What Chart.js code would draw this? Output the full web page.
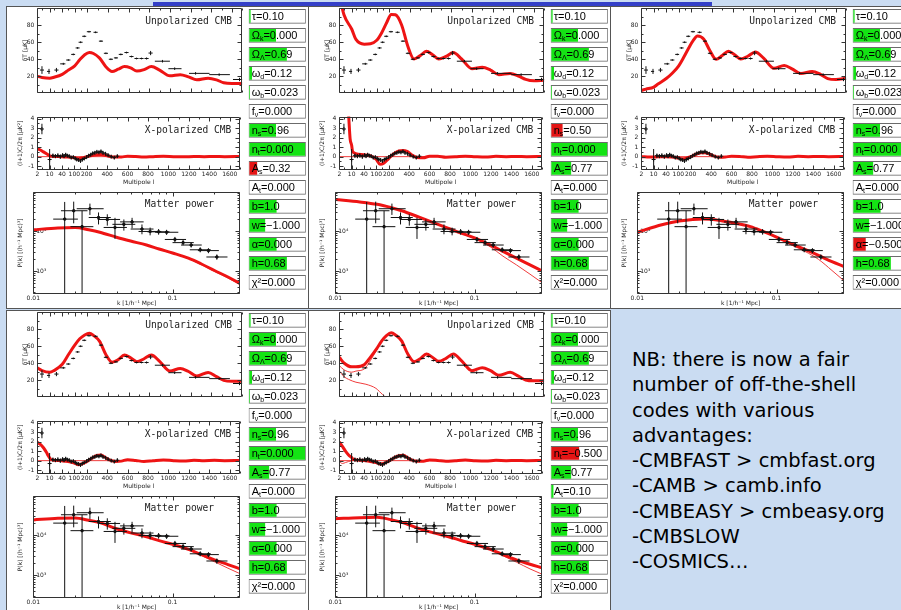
<!DOCTYPE html>
<html>
<head>
<meta charset="utf-8">
<title>CMB fit panels</title>
<script src="https://cdn.jsdelivr.net/npm/chart.js"></script>
<style>
  html, body { margin: 0; padding: 0; }
  body { width: 901px; height: 610px; overflow: hidden; position: relative; background: #cadcf2; }
  .topbar { position: absolute; left: 153px; top: 2px; width: 559px; height: 4px; background: #3440c8; }
  .panel { position: absolute; box-sizing: border-box; width: 303px; height: 303px; background: #fff; border: 1px solid #555; }
  canvas { position: absolute; }
  .note { position: absolute; left: 632px; top: 347px; font-family: "DejaVu Sans", sans-serif; font-size: 19.5px; line-height: 25.3px; color: #000; white-space: pre; }
</style>
</head>
<body>
<div class="topbar"></div>
<div class="note">NB: there is now a fair
number of off-the-shell
codes with various
advantages:
-CMBFAST &gt; cmbfast.org
-CAMB &gt; camb.info
-CMBEASY &gt; cmbeasy.org
-CMBSLOW
-COSMICS…</div>
<script>
// ========================================
// TICKS
// ========================================
const cmbTickL = [2, 10, 40, 100, 200, 400, 600, 800, 1000, 1200, 1400, 1600];
const cmbMinorL = [5, 20, 70, 150, 300, 500, 700, 900, 1100, 1300, 1500, 1700];
const ttYTicks = [20, 40, 60, 80];
const ttYMinor = [10, 30, 50, 70, 90];
const teYTicks = [-1, 0, 1, 2, 3, 4];
const teYMinor = [-0.5, 0.5, 1.5, 2.5, 3.5];
const mpXTicks = [0.01, 0.1];
const mpXLabels = ["0.01", "0.1"];
const mpXMinor = [0.02, 0.03, 0.04, 0.05, 0.06, 0.07, 0.08, 0.09, 0.2, 0.3];
const mpYTicks = [1000, 10000];
const mpYLabels = ["10³", "10⁴"];
const mpYMinor = [300, 400, 500, 600, 700, 800, 900, 2000, 3000, 4000, 5000, 6000, 7000, 8000, 9000,
  20000, 30000, 40000, 50000, 60000, 70000, 80000, 90000];

// ========================================
// UNPOLARIZED CMB (dT in uK) - model curves
// ========================================
const ttGridL = [2, 5, 10, 20, 40, 70, 100, 140, 180, 220, 260, 320, 380, 440, 500, 560, 620, 680, 750, 820,
  900, 1000, 1100, 1180, 1260, 1370, 1450, 1520, 1600, 1700];
const ttP1 = [19.7, 18.3, 17.4, 18.5, 22, 27, 32, 39, 45, 47.6, 46.5, 41, 31, 25.4, 28, 31.1, 29.5, 25.8, 27.5, 31.1,
  27, 20.2, 21.6, 19, 15.5, 17.4, 15.5, 12, 11.1, 11.1];
const ttP2 = [115, 92, 75, 63, 57.5, 58, 62, 71, 83, 92.5, 92, 80, 55, 40, 44, 49, 45, 40, 43, 47.6,
  40, 28.6, 30.2, 27, 21.6, 22.9, 20, 16, 14.3, 15];
const ttP3 = [3, 4.5, 7, 10.5, 17, 23.5, 32, 42, 53, 62, 67, 63.5, 50, 39.7, 44, 49.2, 45, 40, 43.5, 48.3,
  41, 29, 32.4, 28, 22.9, 25.4, 22, 17, 15.9, 17.4];
const ttP4 = [34.3, 31, 29, 31, 38.5, 50, 61, 68.5, 73, 75, 72.5, 65.4, 50, 41, 44, 49.5, 46, 41.6, 45, 49.5,
  42, 30.5, 33.6, 30, 24.8, 28.9, 24, 19.5, 18.4, 18.4];
const ttP5 = [46.7, 40, 35.5, 35.5, 38, 47, 57, 66, 72.5, 75.5, 73, 66, 50.5, 41.5, 45, 50.5, 46.5, 42, 45.5, 50.5,
  42.5, 31, 34.5, 31, 25.5, 29, 24.5, 20, 19, 19];
// panel 5 extra thin curves (scalar part, tensor part)
const ttP5ScalarL = [2, 5, 10, 20, 40, 70, 100, 140];
const ttP5Scalar = [37, 32, 29.2, 30.5, 33, 43, 55.5, 65.5];
const ttP5TensorL = [2, 5, 8, 20, 48, 96, 147, 175, 1700];
const ttP5Tensor = [30.8, 24, 20.7, 17.4, 15, 10.2, 2.9, 0, 0];

// CMB temperature data points
const ttDataL = [5, 9.5, 26, 45, 69, 93, 123, 147, 176, 217, 281, 333, 381, 429, 478, 525, 580, 628, 677, 725,
  774, 813, 928, 1046, 1248, 1476, 1673];
const ttDataV = [27, 25.4, 27, 34.3, 38.8, 45.4, 53, 59.7, 66.7, 72.1, 71.4, 61, 46.7, 39.7, 41.3, 45.4, 47.6, 42.9, 40.6, 40.6,
  40.6, 47, 37.4, 28.6, 23.1, 21.6, 15.9];
const ttDataErr = [4.5, 3, 2.5, 1.2, 1, 1, 1, 1, 1, 1, 1, 1, 1, 1, 1, 1, 1, 1, 1, 1,
  1.2, 2.5, 1.5, 1.5, 1.5, 1.5, 2];
const ttDataLLo = [3.7, 8.2, 21, 35, 59, 83, 107, 131, 160, 197, 261, 313, 361, 409, 458, 505, 560, 608, 657, 705,
  754, 793, 854, 985, 1185, 1380, 1610];
const ttDataLHi = [6.3, 10.8, 31, 55, 79, 103, 139, 163, 192, 237, 301, 353, 401, 449, 498, 545, 600, 648, 697, 745,
  794, 833, 1000, 1112, 1383, 1580, 1700];

// ========================================
// X-POLARIZED CMB - model curves
// ========================================
const teGridL = [2, 4, 6, 8, 9, 10, 12, 14, 20, 40, 70, 100, 130, 160, 200, 250, 300, 340, 380, 430,
  480, 540, 600, 680, 760, 850, 950, 1050, 1150, 1250, 1350, 1450, 1550, 1700];
const teP1 = [0.82, 0.7, 0.5, 0.3, 0.2, 0.1, 0.06, 0.05, 0.02, 0, -0.05, -0.12, -0.22, -0.15, 0, 0.12, 0.2, 0.22, 0.15, 0.02,
  -0.04, -0.03, 0.04, 0.01, -0.04, 0, 0.03, 0, -0.02, 0.02, 0, 0.01, 0, 0.01];
const teP2 = [30, 16, 9, 4.5, 1.9, 1.2, 0.59, 0.45, 0.3, 0.2, 0.1, -0.3, -0.8, -0.7, -0.2, 0.3, 0.6, 0.65, 0.55, 0.15,
  -0.1, -0.12, 0.05, 0.05, -0.05, -0.02, 0.05, 0, -0.03, 0.03, 0, 0.02, 0, 0.01];
const teP3 = [0, -0.02, -0.03, -0.03, -0.03, -0.03, -0.03, -0.03, -0.02, 0, -0.05, -0.15, -0.22, -0.18, 0, 0.25, 0.4, 0.42, 0.3, 0.05,
  -0.06, -0.04, 0.05, 0.02, -0.06, 0, 0.05, 0, -0.03, 0.03, 0, 0.02, 0, 0.01];
const teP4 = [1.93, 1.7, 1.35, 0.85, 0.55, 0.3, 0.18, 0.12, 0.05, -0.02, -0.1, -0.25, -0.42, -0.35, -0.1, 0.25, 0.55, 0.6, 0.35, 0.05,
  -0.08, -0.05, 0.1, 0.02, -0.08, 0, 0.07, 0, -0.04, 0.04, 0, 0.03, 0, 0.02];
const teP5 = [1.96, 1.5, 1.0, 0.6, 0.45, 0.33, 0.2, 0.15, 0.08, 0.02, -0.08, -0.2, -0.35, -0.3, -0.05, 0.28, 0.52, 0.56, 0.35, 0.05,
  -0.05, -0.05, 0.08, 0.02, -0.06, 0, 0.06, 0, -0.03, 0.03, 0, 0.02, 0, 0.02];
const teP5ScalarL = [2, 4, 6, 10, 20, 40];
const teP5Scalar = [-0.1, -0.3, -0.2, 0, 0.05, 0.02];
const teZeroL = [2, 1700];
const teZero = [0, 0];

// polarization data points
const teDataL = [5, 10, 18, 24, 30, 36, 43, 50, 58, 66, 75, 85, 95, 108, 120, 135, 150, 165, 180, 200,
  220, 240, 260, 280, 300, 320, 340, 360, 385, 410, 440, 470, 500];
const teDataV = [2.9, -0.3, 0.1, 0.05, 0.12, 0, 0.15, 0.05, 0.2, 0.1, 0.05, -0.1, -0.05, -0.2, -0.3, -0.35, -0.45, -0.3, -0.2, -0.05,
  0.1, 0.2, 0.35, 0.4, 0.5, 0.45, 0.55, 0.4, 0.3, 0.15, 0, -0.1, 0.05];
const teDataErr = [0.55, 1.1, 0.2, 0.2, 0.2, 0.2, 0.18, 0.18, 0.18, 0.16, 0.16, 0.15, 0.15, 0.15, 0.15, 0.15, 0.15, 0.15, 0.15, 0.15,
  0.15, 0.15, 0.15, 0.15, 0.15, 0.15, 0.15, 0.15, 0.15, 0.15, 0.15, 0.15, 0.15];

// ========================================
// MATTER POWER P(k) - model curves (thick) and linear (thin)
// ========================================
const kGrid = [0.010, 0.015, 0.020, 0.025, 0.030, 0.040, 0.050, 0.065, 0.080, 0.100, 0.130, 0.160, 0.200, 0.250, 0.305];
const mpP1 = [11000, 12300, 12600, 11000, 9550, 7080, 5750, 4570, 3630, 2880, 2140, 1550, 1050, 720, 500];
const mpP1Lin = [11000, 12300, 12600, 11000, 9550, 7080, 5750, 4570, 3630, 2880, 2100, 1480, 1000, 680, 460];
const mpP2 = [63100, 55000, 47900, 39800, 33100, 22900, 17000, 12000, 9120, 6920, 4570, 3160, 2140, 1450, 1020];
const mpP2Lin = [63100, 55000, 47900, 39800, 33100, 22900, 17000, 12000, 9000, 6700, 4100, 2400, 1450, 850, 520];
const mpP3 = [9550, 14800, 18200, 20000, 20400, 18600, 16200, 13200, 10000, 7240, 4790, 3550, 2510, 1740, 1320];
const mpP3Lin = [9550, 14800, 18200, 20000, 20400, 18600, 16200, 13200, 10000, 7080, 4470, 3160, 2000, 1050, 580];
const mpP4 = [24500, 27000, 27500, 24000, 21000, 14500, 11600, 9300, 7400, 6000, 4470, 3350, 2450, 1860, 1460];
const mpP4Lin = [24500, 27000, 27500, 24000, 21000, 14500, 11600, 9300, 7400, 6000, 4400, 3160, 2190, 1510, 1100];
const mpP5 = [26300, 28000, 28500, 25000, 21500, 14800, 11800, 9300, 7500, 6000, 4470, 3310, 2450, 1900, 1550];
const mpP5Lin = [26300, 28000, 28500, 25000, 21500, 14800, 11800, 9300, 7500, 6000, 4400, 3090, 2140, 1450, 1070];

// galaxy power spectrum data points
const mpDataK = [0.0168, 0.0195, 0.0224, 0.0255, 0.0294, 0.0340, 0.0386, 0.0447, 0.0512, 0.0603,
  0.0690, 0.0794, 0.0906, 0.104, 0.119, 0.136, 0.158, 0.181, 0.208];
const mpDataP = [20400, 33100, 13200, 37200, 22400, 20000, 12600, 15100, 17400, 11500,
  10000, 9800, 9550, 6300, 5250, 4570, 3470, 3310, 2290];
const mpDataPLo = [100, 16000, 100, 26000, 15000, 14000, 6500, 10500, 12000, 8500,
  8000, 8300, 8200, 5400, 4500, 3950, 3000, 2850, 1950];
const mpDataPHi = [55000, 56000, 33000, 50000, 30000, 27000, 22000, 20000, 22000, 15000,
  12500, 11500, 11000, 7300, 6100, 5200, 4000, 3800, 2650];
const mpDataKLo = [0.0139, 0.0158, 0.0185, 0.0205, 0.0250, 0.0290, 0.0320, 0.0370, 0.0420, 0.0500,
  0.0570, 0.0660, 0.0750, 0.0880, 0.1000, 0.1150, 0.1330, 0.1520, 0.1750];
const mpDataKHi = [0.0209, 0.0245, 0.0270, 0.0320, 0.0360, 0.0420, 0.0470, 0.0540, 0.0620, 0.0730,
  0.0830, 0.0950, 0.1100, 0.1250, 0.1420, 0.1620, 0.1880, 0.2150, 0.2480];

// ========================================
// PARAMETER SLIDERS
// ========================================
const paramBase = ["τ", "Ω", "Ω", "ω", "ω", "f", "n", "n", "A", "A", "b", "w", "α", "h", "χ²"];
const paramSub = ["", "k", "Λ", "d", "b", "ν", "s", "t", "s", "t", "", "", "", "", ""];
const parValP1 = ["0.10", "0.000", "0.69", "0.12", "0.023", "0.000", "0.96", "0.000", "0.32", "0.000", "1.0", "−1.000", "0.000", "0.68", "0.000"];
const parValP2 = ["0.10", "0.000", "0.69", "0.12", "0.023", "0.000", "0.50", "0.000", "0.77", "0.000", "1.0", "−1.000", "0.000", "0.68", "0.000"];
const parValP3 = ["0.10", "0.000", "0.69", "0.12", "0.023", "0.000", "0.96", "0.000", "0.77", "0.000", "1.0", "−1.000", "−0.500", "0.68", "0.000"];
const parValP4 = ["0.10", "0.000", "0.69", "0.12", "0.023", "0.000", "0.96", "0.000", "0.77", "0.000", "1.0", "−1.000", "0.000", "0.68", "0.000"];
const parValP5 = ["0.10", "0.000", "0.69", "0.12", "0.023", "0.000", "0.96", "−0.500", "0.77", "0.10", "1.0", "−1.000", "0.000", "0.68", "0.000"];
const parFillP1 = [0.045, 0.49, 0.68, 0.07, 0.025, 0, 0.49, 1, 0.16, 0, 0.5, 0.3, 0.5, 0.68, 0];
const parFillP2 = [0.045, 0.49, 0.68, 0.07, 0.025, 0, 0.22, 1, 0.37, 0, 0.5, 0.3, 0.5, 0.68, 0];
const parFillP3 = [0.045, 0.49, 0.68, 0.07, 0.025, 0, 0.49, 1, 0.37, 0, 0.5, 0.3, 0.24, 0.68, 0];
const parFillP4 = [0.045, 0.49, 0.68, 0.07, 0.025, 0, 0.49, 1, 0.37, 0, 0.5, 0.3, 0.5, 0.68, 0];
const parFillP5 = [0.045, 0.49, 0.68, 0.07, 0.025, 0, 0.49, 0.51, 0.37, 0.06, 0.5, 0.3, 0.5, 0.68, 0];

const RED = "#ee1414";
const RED_THIN = "#f03c3c";
const GREEN_FILL = "#14e314";
const RED_FILL = "#e31414";
const INK = "#222";

// ========================================
// MULTIPOLE AXIS: equal steps 2-10-40-100-200, linear above 200
// ========================================
const knotL = [2, 10, 40, 100, 200];
const L_PER_UNIT = 120.7;
function lToU(l) {
  if (l >= 200) return 4 + (l - 200) / L_PER_UNIT;
  for (let i = 1; i < knotL.length; i++) {
    if (l <= knotL[i]) return i - 1 + (l - knotL[i - 1]) / (knotL[i] - knotL[i - 1]);
  }
}
const same = (v) => v;

// ========================================
// HELPERS
// ========================================
Chart.defaults.font.family = '"DejaVu Sans", sans-serif';
Chart.defaults.font.size = 6;
Chart.defaults.color = INK;

function makeCanvas(x, y, w, h) {
  const c = document.createElement("canvas");
  c.width = w;
  c.height = h;
  c.style.left = x + "px";
  c.style.top = y + "px";
  document.body.appendChild(c);
  return c;
}

function makePanel(x, y) {
  const d = document.createElement("div");
  d.className = "panel";
  d.style.left = x + "px";
  d.style.top = y + "px";
  document.body.appendChild(d);
}

const pts = (xs, ys, fx) => xs.map((x, i) => ({ x: fx(x), y: ys[i] }));

function vBars(xs, lo, hi, fx) {
  const out = [];
  xs.forEach((x, i) => out.push({ x: fx(x), y: lo[i] }, { x: fx(x), y: hi[i] }, { x: fx(x), y: null }));
  return out;
}

function hBars(lo, hi, ys, fx) {
  const out = [];
  ys.forEach((y, i) => out.push({ x: fx(lo[i]), y }, { x: fx(hi[i]), y }, { x: fx(hi[i]), y: null }));
  return out;
}

const thick = (data) => ({ data, borderColor: RED, borderWidth: 3, pointRadius: 0, cubicInterpolationMode: "monotone" });
const thin = (data) => ({ data, borderColor: RED_THIN, borderWidth: 1, pointRadius: 0, cubicInterpolationMode: "monotone" });
const bars = (data) => ({ data, borderColor: "#111", borderWidth: 1, pointRadius: 0 });
const marks = (data, style, r) => ({
  data, showLine: false, pointStyle: style, pointRadius: r,
  pointBorderColor: "#111", pointBackgroundColor: "#111", pointBorderWidth: 1,
});

const baseOptions = {
  responsive: false,
  animation: false,
  events: [],
  plugins: { legend: { display: false }, tooltip: { enabled: false } },
};

// frame, inward tick marks and in-plot title
function framePlugin(cfg) {
  return {
    id: "frame",
    afterDatasetsDraw(chart) {
      const { ctx, chartArea: a } = chart;
      const sx = chart.scales.x, sy = chart.scales.y;
      const L = Math.round(a.left) + 0.5, R = Math.round(a.right) - 0.5;
      const T = Math.round(a.top) + 0.5, B = Math.round(a.bottom) - 0.5;
      ctx.save();
      ctx.strokeStyle = "#333";
      ctx.lineWidth = 1;
      ctx.beginPath();
      ctx.rect(L, T, R - L, B - T);
      const xt = (vals, len) => vals.forEach((v) => {
        const p = Math.round(sx.getPixelForValue(v)) + 0.5;
        ctx.moveTo(p, T); ctx.lineTo(p, T + len);
        ctx.moveTo(p, B); ctx.lineTo(p, B - len);
      });
      const yt = (vals, len) => vals.forEach((v) => {
        const p = Math.round(sy.getPixelForValue(v)) + 0.5;
        ctx.moveTo(L, p); ctx.lineTo(L + len, p);
        ctx.moveTo(R, p); ctx.lineTo(R - len, p);
      });
      xt(cfg.xMajor, 4); xt(cfg.xMinor, 2);
      yt(cfg.yMajor, 4); yt(cfg.yMinor, 2);
      ctx.stroke();
      ctx.font = '9.6px "DejaVu Sans Mono", monospace';
      ctx.fillStyle = INK;
      ctx.textBaseline = "middle";
      ctx.fillText(cfg.title, a.left + cfg.dx, a.top + cfg.dy);
      ctx.restore();
    },
  };
}

function cmbX(showLabels) {
  return {
    type: "linear", min: 0, max: lToU(1700), display: showLabels,
    grid: { display: false, drawTicks: false }, border: { display: false },
    afterBuildTicks: (s) => { s.ticks = cmbTickL.map((l) => ({ value: lToU(l) })); },
    ticks: { autoSkip: false, maxRotation: 0, minRotation: 0, padding: 1, callback: (v, i) => String(cmbTickL[i]) },
    title: { display: true, text: "Multipole l", padding: { top: 0, bottom: 4.4 } },
    afterFit: (s) => { s.height = 20; },
  };
}

// ========================================
// CHART BUILDERS
// ========================================
function ttChart(p) {
  const c = makeCanvas(p.ox, p.oy, 245, 116);
  const datasets = [
    bars(vBars(ttDataL, ttDataV.map((v, i) => v - ttDataErr[i]), ttDataV.map((v, i) => v + ttDataErr[i]), lToU)),
    bars(hBars(ttDataLLo, ttDataLHi, ttDataV, lToU)),
    thick(pts(ttGridL, p.tt, lToU)),
  ];
  (p.ttThin || []).forEach(([ls, vs]) => datasets.push(thin(pts(ls, vs, lToU))));
  new Chart(c, {
    type: "line",
    data: { datasets },
    options: {
      ...baseOptions,
      layout: { padding: { left: 0, top: 8, right: 2.7, bottom: 3 } },
      scales: {
        x: cmbX(false),
        y: {
          type: "linear", min: 0, max: 100,
          grid: { display: false, drawTicks: false }, border: { display: false },
          afterBuildTicks: (s) => { s.ticks = ttYTicks.map((v) => ({ value: v })); },
          ticks: { padding: 3 },
          title: { display: true, text: "δT [μK]", padding: { top: 21.4, bottom: 0 } },
          afterFit: (s) => { s.width = 37.3; },
        },
      },
    },
    plugins: [framePlugin({
      xMajor: cmbTickL.map(lToU), xMinor: cmbMinorL.map(lToU),
      yMajor: ttYTicks, yMinor: ttYMinor, title: "Unpolarized CMB", dx: 108, dy: 13.3,
    })],
  });
}

function teChart(p) {
  const c = makeCanvas(p.ox, p.oy + 110, 245, 80);
  const datasets = [
    marks(pts(teDataL, teDataV, lToU), "cross", 2),
    bars(vBars(teDataL, teDataV.map((v, i) => v - teDataErr[i]), teDataV.map((v, i) => v + teDataErr[i]), lToU)),
    thick(pts(teGridL, p.te, lToU)),
  ];
  (p.teThin || []).forEach(([ls, vs]) => datasets.push(thin(pts(ls, vs, lToU))));
  datasets.push({ ...thin(pts(teZeroL, teZero, lToU)), cubicInterpolationMode: "default" });
  new Chart(c, {
    type: "line",
    data: { datasets },
    options: {
      ...baseOptions,
      layout: { padding: { left: 0, top: 3, right: 2.7, bottom: 0 } },
      scales: {
        x: cmbX(true),
        y: {
          type: "linear", min: -1.4, max: 4.2,
          grid: { display: false, drawTicks: false }, border: { display: false },
          afterBuildTicks: (s) => { s.ticks = teYTicks.map((v) => ({ value: v })); },
          ticks: { padding: 3 },
          title: { display: true, text: "(l+1)C/2π [μK²]", padding: { top: 17.1, bottom: 0 } },
          afterFit: (s) => { s.width = 37.3; },
        },
      },
    },
    plugins: [framePlugin({
      xMajor: cmbTickL.map(lToU), xMinor: cmbMinorL.map(lToU),
      yMajor: teYTicks, yMinor: teYMinor, title: "X-polarized CMB", dx: 107.4, dy: 13.7,
    })],
  });
}

function mpChart(p) {
  const c = makeCanvas(p.ox, p.oy + 185, 245, 122);
  const datasets = [
    marks(pts(mpDataK, mpDataP, same), "circle", 1.3),
    bars(vBars(mpDataK, mpDataPLo, mpDataPHi, same)),
    bars(hBars(mpDataKLo, mpDataKHi, mpDataP, same)),
    thick(pts(kGrid, p.mp, same)),
    thin(pts(kGrid, p.mpLin, same)),
  ];
  new Chart(c, {
    type: "line",
    data: { datasets },
    options: {
      ...baseOptions,
      layout: { padding: { left: 0, top: 2.5, right: 2.7, bottom: 0 } },
      scales: {
        x: {
          type: "logarithmic", min: 0.01, max: 0.305,
          grid: { display: false, drawTicks: false }, border: { display: false },
          afterBuildTicks: (s) => { s.ticks = mpXTicks.map((v) => ({ value: v })); },
          ticks: { autoSkip: false, maxRotation: 0, padding: 1, callback: (v, i) => mpXLabels[i] },
          title: { display: true, text: "k [1/h⁻¹ Mpc]", padding: { top: 0, bottom: 0 } },
          afterFit: (s) => { s.height = 13; },
        },
        y: {
          type: "logarithmic", min: 270, max: 100000,
          grid: { display: false, drawTicks: false }, border: { display: false },
          afterBuildTicks: (s) => { s.ticks = mpYTicks.map((v) => ({ value: v })); },
          ticks: { mirror: true, padding: 3, callback: (v, i) => mpYLabels[i] },
          title: { display: true, text: "P(k) [(h⁻¹ Mpc)³]", padding: { top: 17.1, bottom: 0 } },
          afterFit: (s) => { s.width = 33.3; },
        },
      },
    },
    plugins: [framePlugin({
      xMajor: mpXTicks, xMinor: mpXMinor, yMajor: mpYTicks, yMinor: mpYMinor,
      title: "Matter power", dx: 111.4, dy: 13.2,
    })],
  });
}

// slider labels drawn over the bars
function paramText(values) {
  return {
    id: "paramText",
    afterDatasetsDraw(chart) {
      const { ctx, chartArea } = chart;
      const meta = chart.getDatasetMeta(1);
      ctx.save();
      ctx.fillStyle = "#000";
      ctx.textBaseline = "middle";
      meta.data.forEach((bar, i) => {
        let x = chartArea.left + 3;
        const y = bar.y + 0.5;
        ctx.font = '11px "Liberation Sans", sans-serif';
        ctx.fillText(paramBase[i], x, y);
        x += ctx.measureText(paramBase[i]).width;
        if (paramSub[i]) {
          ctx.font = '7px "Liberation Sans", sans-serif';
          ctx.fillText(paramSub[i], x, y + 3);
          x += ctx.measureText(paramSub[i]).width;
        }
        ctx.font = '11px "Liberation Sans", sans-serif';
        ctx.fillText("=" + values[i], x, y);
      });
      ctx.restore();
    },
  };
}

function paramChart(p) {
  const c = makeCanvas(p.ox + 247, p.oy, 61, 300);
  const keys = paramBase.map((b, i) => b + paramSub[i]);
  new Chart(c, {
    type: "bar",
    data: {
      labels: keys,
      datasets: [
        {
          data: p.fill, backgroundColor: p.fill.map((f, i) => (i === p.red ? RED_FILL : GREEN_FILL)),
          borderWidth: 1, borderColor: "rgba(0,0,0,0)", borderSkipped: false,
          barThickness: 14, grouped: false, order: 0,
        },
        {
          data: keys.map(() => 1), backgroundColor: "#fff", borderColor: "#6b6b6b", borderWidth: 1,
          borderSkipped: false, barThickness: 14, grouped: false, order: 1,
        },
      ],
    },
    options: {
      ...baseOptions,
      indexAxis: "y",
      layout: { padding: { left: 1.7, right: 2.2, top: 6.8, bottom: 8.2 } },
      scales: { x: { display: false, min: 0, max: 1 }, y: { display: false } },
    },
    plugins: [paramText(p.values)],
  });
}

// ========================================
// PANELS
// ========================================
const panels = [
  { ox: 0, oy: 0, tt: ttP1, te: teP1, mp: mpP1, mpLin: mpP1Lin, values: parValP1, fill: parFillP1, red: 8 },
  { ox: 302, oy: 0, tt: ttP2, te: teP2, mp: mpP2, mpLin: mpP2Lin, values: parValP2, fill: parFillP2, red: 6 },
  { ox: 604, oy: 0, tt: ttP3, te: teP3, mp: mpP3, mpLin: mpP3Lin, values: parValP3, fill: parFillP3, red: 12 },
  { ox: 0, oy: 304, tt: ttP4, te: teP4, mp: mpP4, mpLin: mpP4Lin, values: parValP4, fill: parFillP4, red: -1 },
  {
    ox: 302, oy: 304, tt: ttP5, te: teP5, mp: mpP5, mpLin: mpP5Lin, values: parValP5, fill: parFillP5, red: 7,
    ttThin: [[ttP5ScalarL, ttP5Scalar], [ttP5TensorL, ttP5Tensor]],
    teThin: [[teP5ScalarL, teP5Scalar]],
  },
];

panels.forEach((p) => makePanel(p.ox + 6, p.oy + 6));
panels.forEach((p) => {
  try {
    ttChart(p);
    teChart(p);
    mpChart(p);
    paramChart(p);
  } catch (error) {
    console.error("Error rendering panel:", error);
  }
});
</script>
</body>
</html>
